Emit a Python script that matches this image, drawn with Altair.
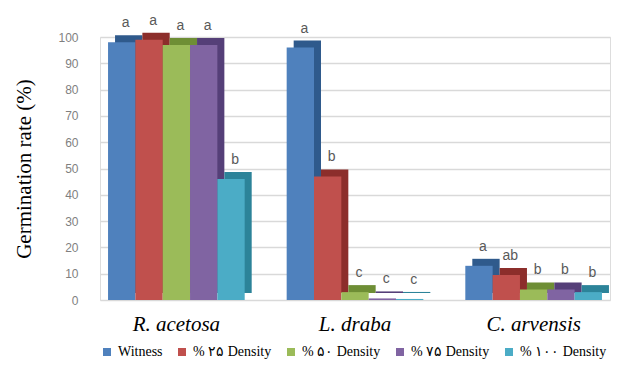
import altair as alt
import pandas as pd

species = ["R. acetosa", "L. draba", "C. arvensis"]
treatments = ["Witness", "% ۲۵ Density", "% ۵۰ Density", "% ۷۵ Density", "% ۱۰۰ Density"]
values = {
    "R. acetosa": [98, 99, 97, 97, 46],
    "L. draba": [96, 47, 3, 0.6, 0.4],
    "C. arvensis": [13, 9.5, 4, 4, 3],
}
letters = {
    "R. acetosa": ["a", "a", "a", "a", "b"],
    "L. draba": ["a", "b", "c", "c", "c"],
    "C. arvensis": ["a", "ab", "b", "b", "b"],
}

front_colors = ["#4F81BD", "#C0504D", "#9BBB59", "#8064A2", "#4BACC6"]
dark_colors = ["#2F5A8C", "#8C2E2B", "#6E8E35", "#553F78", "#2C8399"]
dark_map = dict(zip(treatments, dark_colors))

rows = []
for s in species:
    for i, t in enumerate(treatments):
        rows.append({"species": s, "treatment": t, "value": values[s][i],
                     "letter": letters[s][i], "order": i, "dark": dark_map[t]})
df = pd.DataFrame(rows)

W, H = 510, 263
PI, PO = 0.235, 0.045
band = W / (3 - PI + 2 * PO) * (1 - PI)
DEPTH = 7

x_enc = alt.X("species:N", sort=species, title=None,
              scale=alt.Scale(paddingInner=PI, paddingOuter=PO),
              axis=alt.Axis(labelFont="Liberation Serif", labelFontStyle="italic",
                            labelFontSize=21, labelColor="black", labelAngle=0,
                            labelPadding=13, ticks=False, domain=False))
y_enc = alt.Y("value:Q", title="Germination rate (%)",
              scale=alt.Scale(domain=[0, 100]),
              axis=alt.Axis(values=list(range(0, 101, 10)), labelColor="#7F7F7F",
                            labelFont="Liberation Sans", labelFontSize=12,
                            labelPadding=22, ticks=False, domain=False,
                            gridColor="#D9D9D9", gridWidth=1.5,
                            titleFont="Liberation Serif", titleFontSize=21,
                            titleFontWeight="normal", titleColor="black",
                            titlePadding=23))

base = alt.Chart(df)

depth = base.mark_bar(yOffset=-DEPTH).encode(
    x=x_enc,
    xOffset=alt.XOffset("treatment:N", sort=treatments,
                        scale=alt.Scale(range=[DEPTH, band + DEPTH], paddingInner=0, paddingOuter=0)),
    y=y_enc,
    color=alt.Color("dark:N", scale=None),
)

xo_front = alt.XOffset("treatment:N", sort=treatments,
                       scale=alt.Scale(paddingInner=0, paddingOuter=0))

front = base.mark_bar().encode(
    x=x_enc, xOffset=xo_front, y=y_enc,
    color=alt.Color("treatment:N", sort=treatments,
                    scale=alt.Scale(domain=treatments, range=front_colors),
                    legend=alt.Legend(title=None, orient="bottom", direction="horizontal",
                                      symbolType="square", symbolSize=64,
                                      labelFont="Liberation Serif", labelFontSize=14,
                                      labelColor="black", columnPadding=12,
                                      symbolOffset=0, offset=11)),
)

text = base.mark_text(dx=4, dy=-12, baseline="bottom", fontSize=14,
                      font="Liberation Sans", color="#595959").encode(
    x=x_enc, xOffset=xo_front, y=y_enc, text="letter:N",
)

chart = alt.layer(depth, alt.layer(front, text)).resolve_scale(
    xOffset="independent"
).properties(
    width=W, height=H
).configure_view(stroke=None).configure(background="white")

chart.save("out.html", embed_options={"renderer": "svg", "actions": False})
